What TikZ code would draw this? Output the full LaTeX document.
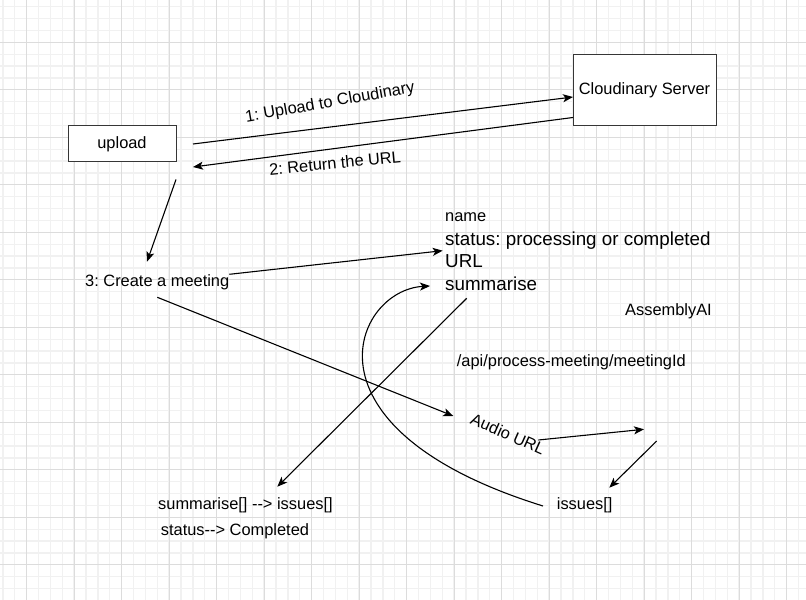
\documentclass[tikz,border=0pt]{standalone}
\usepackage{fontspec}
\setmainfont{Liberation Sans}
\usetikzlibrary{arrows.meta}
\definecolor{minorgrid}{HTML}{F1F1F1}
\definecolor{majorgrid}{HTML}{DCDCDC}
\definecolor{boxline}{HTML}{363636}
\frenchspacing
\begin{document}
\begin{tikzpicture}[x=1bp,y=-1bp,
  txt/.style={font=\fontsize{16.4bp}{19bp}\selectfont, inner sep=0pt},
  bigtxt/.style={font=\fontsize{18.8bp}{22bp}\selectfont, inner sep=0pt},
  box/.style={draw=boxline, line width=1bp, fill=white, inner sep=0pt,
              font=\fontsize{16.4bp}{19bp}\selectfont},
  conn/.style={line width=1.1bp, -{Stealth[length=10bp,width=8bp,inset=2.5bp]}},
  mgrid/.style={draw=minorgrid, line width=1.3bp},
  Mgrid/.style={draw=majorgrid, line width=1bp},
]
\fill[white] (0,0) rectangle (806,600);
\useasboundingbox (0,0) rectangle (806,600);
% grid
\foreach \i in {-2,...,66} {
  \pgfmathsetmacro\gx{26.6+\i*11.875}
  \draw[mgrid] (\gx,0) -- (\gx,600);
}
\foreach \i in {-3,...,47} {
  \pgfmathsetmacro\gy{42.3+\i*11.875}
  \draw[mgrid] (0,\gy) -- (806,\gy);
}
\foreach \i in {0,...,16} {
  \pgfmathsetmacro\gx{26.6+\i*47.5}
  \draw[Mgrid] (\gx,0) -- (\gx,600);
}
\foreach \i in {0,...,11} {
  \pgfmathsetmacro\gy{42.3+\i*47.5}
  \draw[Mgrid] (0,\gy) -- (806,\gy);
}

% boxes
\node[box, minimum width=108bp, minimum height=36bp] (upload) at (122,144) {upload};
\node[box, minimum width=143bp, minimum height=71bp] (cloud) at (644.5,90.5) {Cloudinary Server};

% texts
\node[txt, anchor=base west] (create) at (85,286) {3: Create a meeting};
\node[txt, anchor=base west] (name) at (445,221.5) {name};
\node[bigtxt, anchor=base west] (status) at (445,245) {status: processing or completed};
\node[bigtxt, anchor=base west] (url) at (445,267.7) {URL};
\node[bigtxt, anchor=base west] (summ) at (445,290.7) {summarise};
\node[txt, anchor=base west] (assembly) at (625,315) {AssemblyAI};
\node[txt, anchor=base west] (api) at (456.7,366.7) {/api/process-meeting/meetingId};
\node[txt, anchor=base west] (sumiss) at (158,509.3) {summarise[] -{}-> issues[]};
\node[txt, anchor=base west] (statcomp) at (160.7,535) {status-{}-> Completed};
\node[txt, anchor=base west] (issues) at (556.7,509.3) {issues[]};
\node[txt, rotate=10] (l1) at (330,103) {1: Upload to Cloudinary};
\node[txt, rotate=5.5] (l2) at (335,163) {2: Return the URL};
\node[txt, rotate=-24] (audio) at (508,434) {Audio URL};

% connector end points
\coordinate (a1s) at (193,144);   \coordinate (a1e) at (573,97);
\coordinate (a2s) at (573,117.5); \coordinate (a2e) at (193,167);
\coordinate (a3s) at (176,179.5); \coordinate (a3e) at (147,261.7);
\coordinate (a4s) at (229.3,274.3); \coordinate (a4e) at (442.7,250.7);
\coordinate (a5s) at (157.3,297.3); \coordinate (a5e) at (453.3,416);
\coordinate (a6s) at (538.3,440); \coordinate (a6e) at (644,429.3);
\coordinate (a7s) at (656.7,441); \coordinate (a7e) at (609.3,487.7);
\coordinate (a8s) at (466.7,298.3); \coordinate (a8e) at (277.3,486.7);
\coordinate (cvs) at (543,506);   \coordinate (cve) at (430,286);

\draw[conn] (a1s) -- (a1e);
\draw[conn] (a2s) -- (a2e);
\draw[conn] (a3s) -- (a3e);
\draw[conn] (a4s) -- (a4e);
\draw[conn] (a5s) -- (a5e);
\draw[conn] (a6s) -- (a6e);
\draw[conn] (a7s) -- (a7e);
\draw[conn] (a8s) -- (a8e);
\draw[conn] (cvs) .. controls (292,428) and (355,290) .. (cve);
\end{tikzpicture}
\end{document}
